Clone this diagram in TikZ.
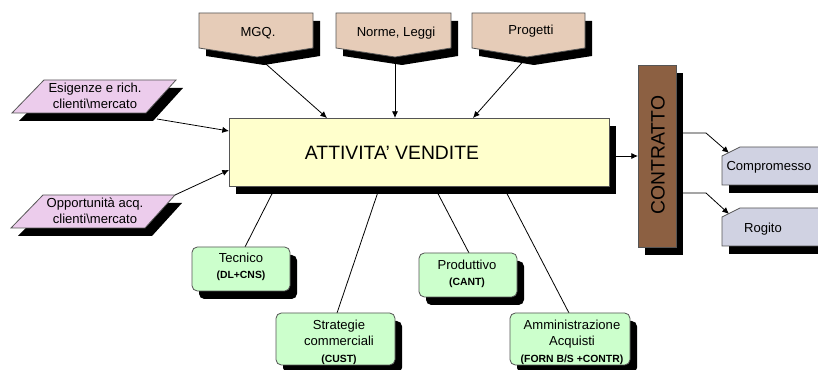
\documentclass[tikz,border=0pt]{standalone}
\usepackage{fontspec}
\setmainfont{Liberation Sans}
\usetikzlibrary{arrows.meta}
\definecolor{tanfill}{RGB}{230,204,184}
\definecolor{pinkfill}{RGB}{236,204,236}
\definecolor{yellowfill}{RGB}{255,255,204}
\definecolor{greenfill}{RGB}{204,255,204}
\definecolor{brownfill}{RGB}{140,96,66}
\definecolor{lavfill}{RGB}{208,210,226}
\definecolor{edgegray}{RGB}{85,85,85}
\newcommand{\boldsmall}[1]{{\fontsize{7.8}{10}\selectfont\bfseries #1}}
\begin{document}
\begin{tikzpicture}[x=0.75pt,y=-0.75pt]
\tikzset{
  outline/.style={draw=edgegray, line width=0.6pt},
  shd/.style={fill=black, shift={(7,8)}},
  conn/.style={draw=black, line width=0.6pt},
  arr/.style={conn, -{Latex[length=5pt,width=4.6pt]}},
  lbl/.style={font=\fontsize{9.8}{12.3}\selectfont, align=center, inner sep=0pt},
  biglbl/.style={font=\fontsize{14.5}{17}\selectfont, inner sep=0pt},
}
\useasboundingbox (0,0) rectangle (818,370);
\fill[white] (0,0) rectangle (818,370);

% connector end points
\coordinate (mgq) at (258,57);  \coordinate (vmgq) at (327,118);
\coordinate (nor) at (395,57);  \coordinate (vnor) at (395,118);
\coordinate (pro) at (527,57);  \coordinate (vpro) at (473,118);
\coordinate (esi) at (157,119); \coordinate (vesi) at (229,131);
\coordinate (opp) at (175,195); \coordinate (vopp) at (229,170);
\coordinate (vtec) at (276,186); \coordinate (tec) at (245,247);
\coordinate (vstr) at (380,186); \coordinate (str) at (337,313);
\coordinate (vprd) at (434,186); \coordinate (prd) at (469,253);
\coordinate (vamm) at (503,186); \coordinate (amm) at (569,313);
\coordinate (vout) at (609,156); \coordinate (cin) at (638,156);
\coordinate (c1) at (676,133); \coordinate (k1) at (706,133); \coordinate (cmp) at (729,153);
\coordinate (c2) at (676,193); \coordinate (k2) at (706,193); \coordinate (rog) at (729,214);

% connectors (drawn first, shapes on top)
\draw[arr] (mgq) -- (vmgq);
\draw[arr] (nor) -- (vnor);
\draw[arr] (pro) -- (vpro);
\draw[arr] (esi) -- (vesi);
\draw[arr] (opp) -- (vopp);
\draw[conn] (vtec) -- (tec);
\draw[conn] (vstr) -- (str);
\draw[conn] (vprd) -- (prd);
\draw[conn] (vamm) -- (amm);
\draw[arr] (vout) -- (cin);
\draw[arr] (c1) -- (k1) -- (cmp);
\draw[arr] (c2) -- (k2) -- (rog);

% top pentagons
\fill[shd] (199,13) -- (313,13) -- (313,48) -- (257,57) -- (199,48) -- cycle;
\filldraw[outline, fill=tanfill] (199,13) -- (313,13) -- (313,48) -- (257,57) -- (199,48) -- cycle;
\node[lbl] (tmgq) at (258,33) {MGQ.};

\fill[shd] (336,13) -- (451,13) -- (451,48) -- (395,57) -- (336,48) -- cycle;
\filldraw[outline, fill=tanfill] (336,13) -- (451,13) -- (451,48) -- (395,57) -- (336,48) -- cycle;
\node[lbl] (tnor) at (396,33) {Norme, Leggi};

\fill[shd] (472,13) -- (585,13) -- (585,48) -- (527,57) -- (472,48) -- cycle;
\filldraw[outline, fill=tanfill] (472,13) -- (585,13) -- (585,48) -- (527,57) -- (472,48) -- cycle;
\node[lbl] (tpro) at (531,31) {Progetti};

% left parallelograms
\fill[shd] (44,80) -- (176,80) -- (146,113) -- (12,113) -- cycle;
\filldraw[outline, fill=pinkfill] (44,80) -- (176,80) -- (146,113) -- (12,113) -- cycle;
\node[lbl] (tesi) at (95,96) {Esigenze e rich.\\clienti\textbackslash mercato};

\fill[shd] (43,195) -- (175,195) -- (145,228) -- (11,228) -- cycle;
\filldraw[outline, fill=pinkfill] (43,195) -- (175,195) -- (145,228) -- (11,228) -- cycle;
\node[lbl] (topp) at (95,211) {Opportunità acq.\\clienti\textbackslash mercato};

% main box
\fill[shd] (229,118) rectangle (609,186);
\filldraw[outline, fill=yellowfill] (229,118) rectangle (609,186);
\node[biglbl] (tvend) at (392,153) {ATTIVITA’ VENDITE};

% bottom green boxes
\fill[shd, rounded corners=4] (192,247) rectangle (290,291);
\filldraw[outline, fill=greenfill, rounded corners=4] (192,247) rectangle (290,291);
\node[lbl] (ttec) at (241,267) {Tecnico\\\boldsmall{(DL+CNS)}};

\fill[shd, rounded corners=4] (276,313) rectangle (395,365);
\filldraw[outline, fill=greenfill, rounded corners=4] (276,313) rectangle (395,365);
\node[lbl] (tstr) at (339,342) {Strategie\\commerciali\\\boldsmall{(CUST)}};

\fill[shd, rounded corners=4] (419,253) rectangle (517,297);
\filldraw[outline, fill=greenfill, rounded corners=4] (419,253) rectangle (517,297);
\node[lbl] (tprd) at (467,274) {Produttivo\\\boldsmall{(CANT)}};

\fill[shd, rounded corners=4] (510,313) rectangle (630,365);
\filldraw[outline, fill=greenfill, rounded corners=4] (510,313) rectangle (630,365);
\node[lbl] (tamm) at (572,342) {Amministrazione\\Acquisti\\\boldsmall{(FORN B/S +CONTR)}};

% contratto
\fill[shd] (638,65) rectangle (676,247);
\filldraw[outline, fill=brownfill] (638,65) rectangle (676,247);
\node[biglbl, rotate=90] (tcon) at (658,155) {CONTRATTO};

% right boxes
\fill[shd] (818,147) -- (740,147) -- (722,156) -- (722,185) -- (818,185) -- cycle;
\fill[lavfill] (818,147) -- (740,147) -- (722,156) -- (722,185) -- (818,185) -- cycle;
\draw[outline] (818,147) -- (740,147) -- (722,156) -- (722,185) -- (818,185);
\node[lbl] (tcmp) at (769,167) {Compromesso};

\fill[shd] (818,208) -- (740,208) -- (722,217) -- (722,246) -- (818,246) -- cycle;
\fill[lavfill] (818,208) -- (740,208) -- (722,217) -- (722,246) -- (818,246) -- cycle;
\draw[outline] (818,208) -- (740,208) -- (722,217) -- (722,246) -- (818,246);
\node[lbl] (trog) at (763,229) {Rogito};
\end{tikzpicture}
\end{document}
